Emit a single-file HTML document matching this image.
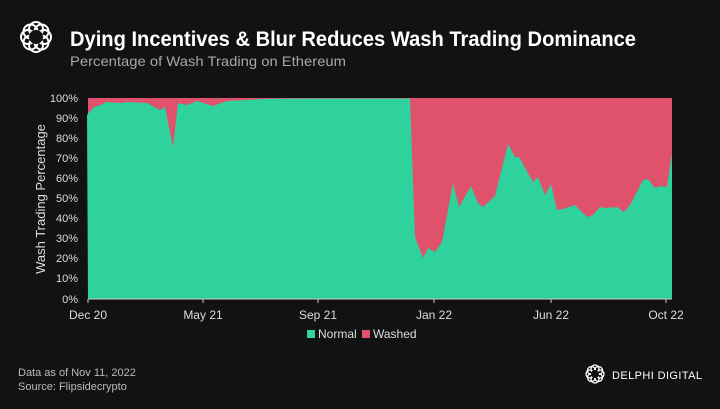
<!DOCTYPE html>
<html><head><meta charset="utf-8"><style>
body{margin:0;width:720px;height:404px;background:#121214;overflow:hidden;font-family:"Liberation Sans",sans-serif}
</style></head><body>
<svg width="720" height="404" xmlns="http://www.w3.org/2000/svg" font-family="Liberation Sans, sans-serif">
<rect width="720" height="404" fill="#121214"/>
<g fill="none" stroke="#fff" stroke-width="2">
<circle cx="36" cy="29" r="7"/><circle cx="36" cy="45" r="7"/><circle cx="28" cy="37" r="7"/><circle cx="44" cy="37" r="7"/>
<circle cx="30.5" cy="31.5" r="7"/><circle cx="41.5" cy="42.5" r="7"/><circle cx="41.5" cy="31.5" r="7"/><circle cx="30.5" cy="42.5" r="7"/>
</g>
<circle cx="36" cy="37" r="7" fill="#121214"/>
<text x="70" y="46" fill="#fff" font-size="21" font-weight="bold" textLength="566" lengthAdjust="spacingAndGlyphs">Dying Incentives &amp; Blur Reduces Wash Trading Dominance</text>
<text x="70" y="66" fill="#a8a8a8" font-size="14" textLength="276" lengthAdjust="spacingAndGlyphs">Percentage of Wash Trading on Ethereum</text>
<rect x="88" y="98" width="584" height="201" fill="#e0526b"/>
<polygon fill="#2fd19d" points="88,299 87,115 93,108 107,102 120,103 127,102 147,103 160,110 165,107 173,147 178,103 187,105 197,101 213,106 227,101 263,99 300,98.5 410,98.5 415,237 423,258 428,248 435,252 442,242 453,183 459,207 471,186 478,203 483,207 495,196 508,144 515,157 519,157 533,182 538,177 545,195 551,184 557,210 563,209 575,205 587,217 593,215 600,207 605,208 617,207 624,212 630,205 643,180 648,179 655,188 660,186 667,187 672,153 672,299"/>
<line x1="88" y1="299" x2="672" y2="299" stroke="#ccc" stroke-width="1"/>
<g stroke="#ccc"><line x1="88" y1="299" x2="88" y2="303"/><line x1="203" y1="299" x2="203" y2="303"/><line x1="318" y1="299" x2="318" y2="303"/><line x1="434" y1="299" x2="434" y2="303"/><line x1="551" y1="299" x2="551" y2="303"/><line x1="666" y1="299" x2="666" y2="303"/></g>
<g fill="#ddd" font-size="11" text-anchor="end">
<text x="78" y="102">100%</text><text x="78" y="122">90%</text><text x="78" y="142">80%</text><text x="78" y="162">70%</text><text x="78" y="182">60%</text><text x="78" y="202">50%</text><text x="78" y="222">40%</text><text x="78" y="242">30%</text><text x="78" y="262">20%</text><text x="78" y="282">10%</text><text x="78" y="303">0%</text>
</g>
<g fill="#ddd" font-size="12" text-anchor="middle">
<text x="88" y="319">Dec 20</text><text x="203" y="319">May 21</text><text x="318" y="319">Sep 21</text><text x="434" y="319">Jan 22</text><text x="551" y="319">Jun 22</text><text x="666" y="319">Oct 22</text>
</g>
<text transform="translate(45,199) rotate(-90)" fill="#ddd" font-size="13" text-anchor="middle">Wash Trading Percentage</text>
<rect x="307" y="330" width="8" height="8" fill="#2fd19d"/><text x="318" y="338" fill="#ddd" font-size="12">Normal</text>
<rect x="362" y="330" width="8" height="8" fill="#e0526b"/><text x="373" y="338" fill="#ddd" font-size="12">Washed</text>
<text x="18" y="376" fill="#bbb" font-size="11">Data as of Nov 11, 2022</text>
<text x="18" y="390" fill="#bbb" font-size="11">Source: Flipsidecrypto</text>
<g fill="none" stroke="#fff" stroke-width="1.3">
<circle cx="595" cy="369" r="4"/><circle cx="595" cy="379" r="4"/><circle cx="590" cy="374" r="4"/><circle cx="600" cy="374" r="4"/>
<circle cx="591.5" cy="370.5" r="4"/><circle cx="598.5" cy="377.5" r="4"/><circle cx="598.5" cy="370.5" r="4"/><circle cx="591.5" cy="377.5" r="4"/>
</g>
<circle cx="595" cy="374" r="4" fill="#121214"/>
<text x="612" y="379" fill="#fff" font-size="11" textLength="90" lengthAdjust="spacing">DELPHI DIGITAL</text>
</svg>
</body></html>
